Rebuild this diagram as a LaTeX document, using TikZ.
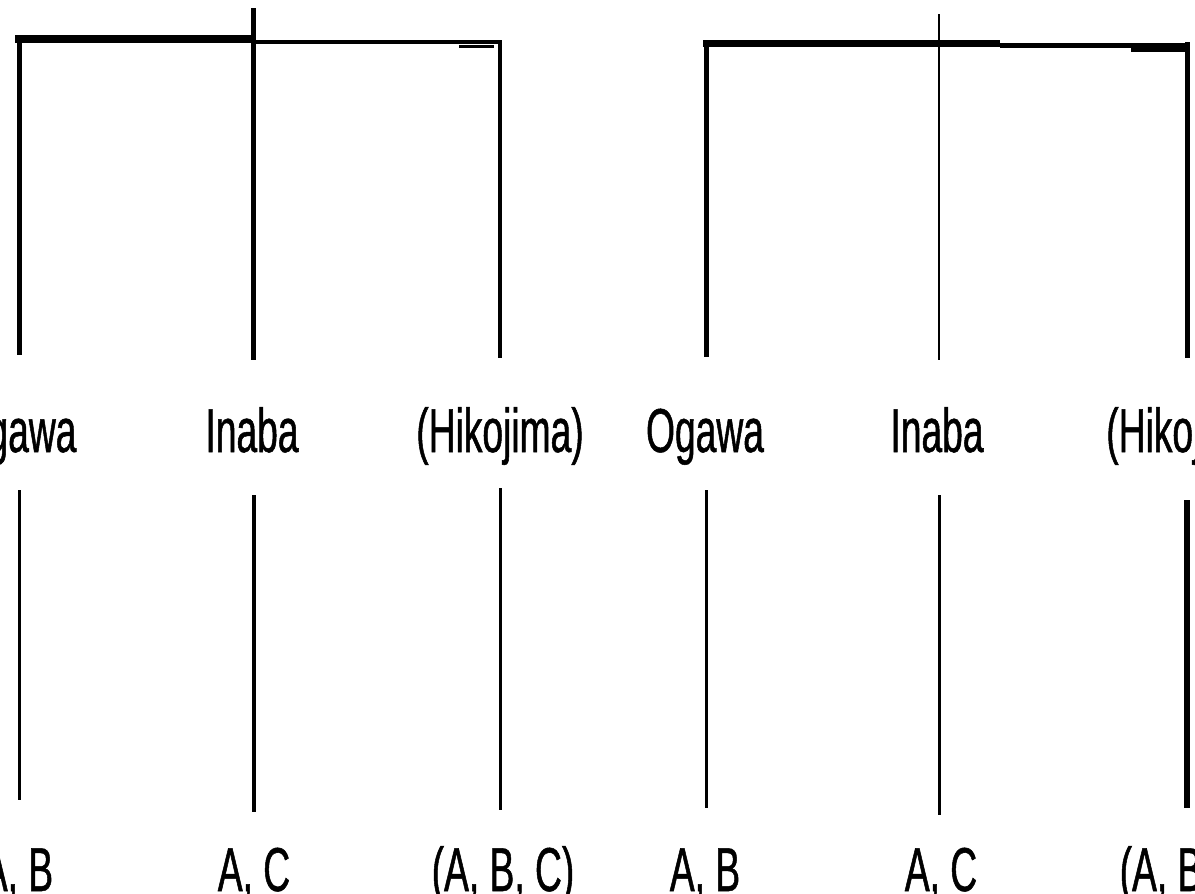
\documentclass[tikz,border=0pt]{standalone}
\usepackage{fontspec}
\newfontfamily\labfont[FakeStretch=0.6,FakeBold=0.8]{Liberation Sans}
\begin{document}
\begin{tikzpicture}[x=1pt,y=-1pt,
  lab/.style={font=\labfont\fontsize{62}{70}\selectfont, anchor=base, inner sep=0pt, text height=45pt, text depth=0pt},
  bar/.style={line width=#1, draw=black}]
\useasboundingbox (0,0) rectangle (1195,894);
\clip (0,0) rectangle (1195,894);
% top coordinates of the verticals
\coordinate (t1) at (19.5,35);
\coordinate (t2) at (253.5,8);
\coordinate (t3) at (500,40);
\coordinate (t4) at (706.5,40);
\coordinate (t5) at (939,14);
\coordinate (t6) at (1187,42);
% bar end points
\coordinate (ba) at (15,39);
\coordinate (bb) at (251,39);
\coordinate (bc) at (251,41.5);
\coordinate (bd) at (502,41.5);
\coordinate (be) at (703,43);
\coordinate (bf) at (1000,43);
\coordinate (bg) at (1000,45);
\coordinate (bh) at (1190,45);
\coordinate (bi) at (1131,49.5);
\coordinate (bj) at (1186,49.5);
\coordinate (bk) at (459,46.5);
\coordinate (bl) at (494,46.5);
% labels
\node[lab] (o1) at (17.5,452) {Ogawa};
\node[lab] (o2) at (252,452) {Inaba};
\node[lab] (o3) at (500,452) {(Hikojima)};
\node[lab] (o4) at (705,452) {Ogawa};
\node[lab] (o5) at (937,452) {Inaba};
\node[lab] (o6) at (1190,452) {(Hikojima)};
\node[lab] (s1) at (18,891) {A, B};
\node[lab] (s2) at (254,891) {A, C};
\node[lab] (s3) at (503,891) {(A, B, C)};
\node[lab] (s4) at (705,891) {A, B};
\node[lab] (s5) at (941,891) {A, C};
\node[lab] (s6) at (1191,891) {(A, B, C)};
% bars
\draw[bar=8pt] (ba) -- (bb);
\draw[bar=4pt] (bc) -- (bd);
\draw[bar=3pt] (bk) -- (bl);
\draw[bar=7pt] (be) -- (bf);
\draw[bar=5pt] (bg) -- (bh);
\draw[bar=5pt] (bi) -- (bj);
% upper verticals
\draw[bar=5pt, shorten >=52pt] (t1) -- (t1 |- o1.north);
\draw[bar=5pt, shorten >=47pt] (t2) -- (t2 |- o2.north);
\draw[bar=4pt, shorten >=49pt] (t3) -- (t3 |- o3.north);
\draw[bar=5pt, shorten >=50pt] (t4) -- (t4 |- o4.north);
\draw[bar=2.5pt, shorten >=47pt] (t5) -- (t5 |- o5.north);
\draw[bar=5pt, shorten >=49pt] (t6) -- (t6 |- o6.north);
% lower verticals
\draw[bar=3pt, shorten <=38pt, shorten >=46pt] (t1 |- o1.south) -- (t1 |- s1.north);
\draw[bar=4pt, shorten <=43pt, shorten >=34pt] (t2 |- o2.south) -- (t2 |- s2.north);
\draw[bar=3pt, shorten <=36pt, shorten >=36pt] (t3 |- o3.south) -- (t3 |- s3.north);
\draw[bar=3pt, shorten <=38pt, shorten >=38pt] (t4 |- o4.south) -- (t4 |- s4.north);
\draw[bar=3pt, shorten <=43pt, shorten >=31pt] (t5 |- o5.south) -- (t5 |- s5.north);
\draw[bar=6pt, shorten <=48pt, shorten >=38pt] (t6 |- o6.south) -- (t6 |- s6.north);
\end{tikzpicture}
\end{document}
